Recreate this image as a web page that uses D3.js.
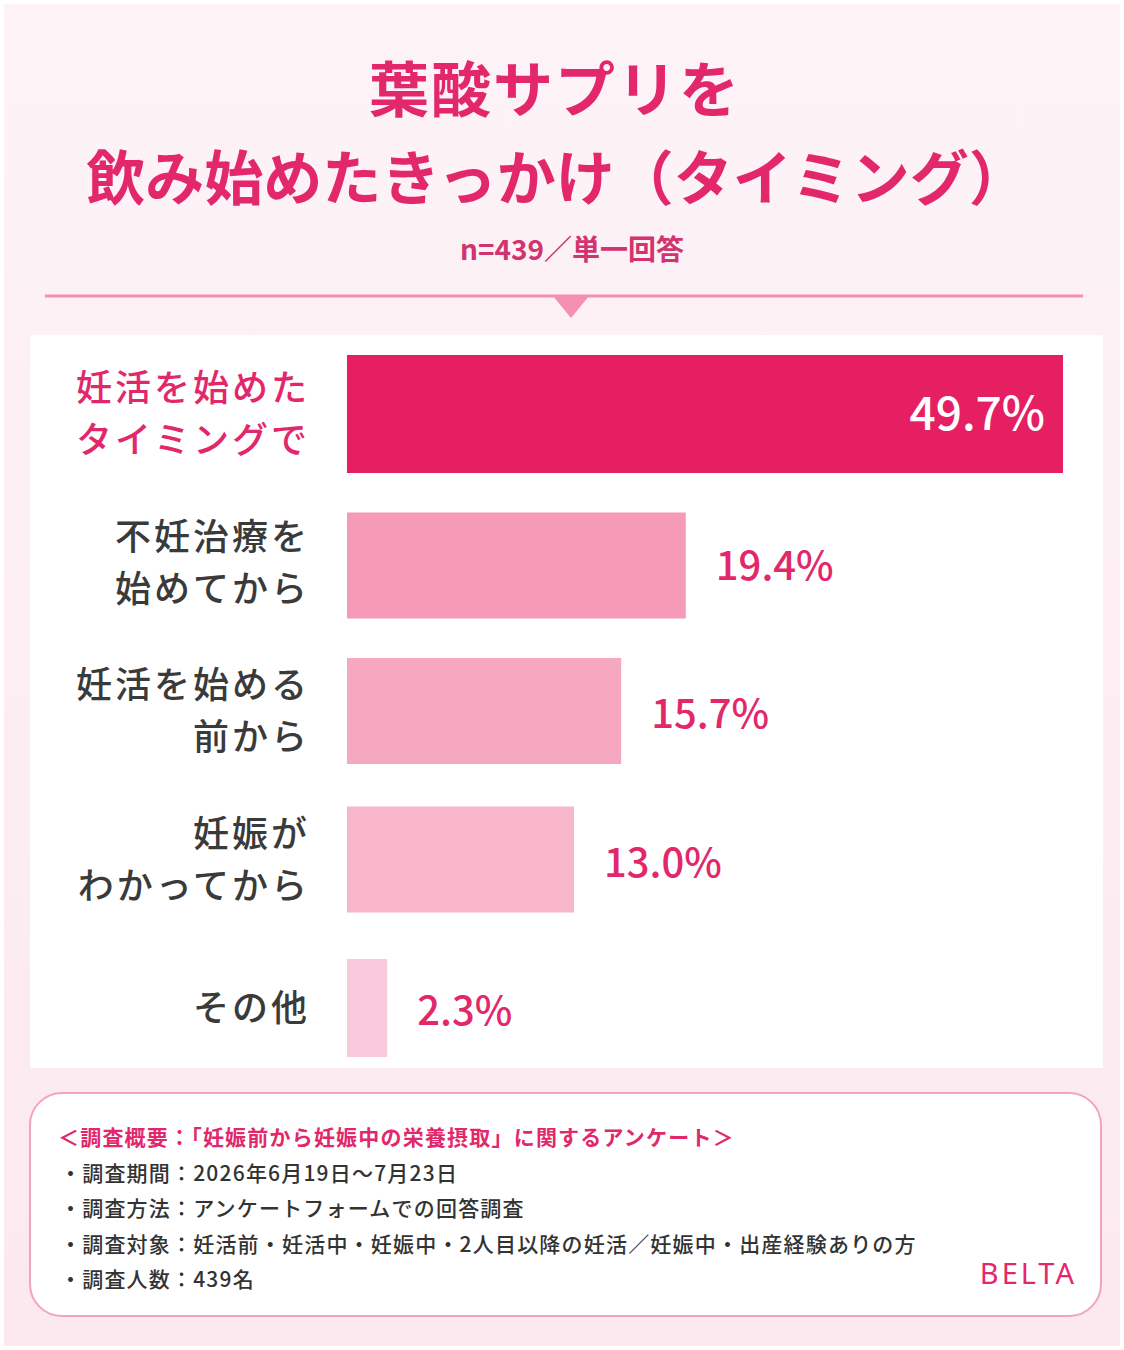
<!DOCTYPE html>
<html><head><meta charset="utf-8">
<script src="https://cdn.jsdelivr.net/npm/d3@7"></script>
<style>body{margin:0;background:#fff}</style>
</head><body>
<script>
var categories = [["妊活を始めた","タイミングで"],["不妊治療を","始めてから"],["妊活を始める","前から"],["妊娠が","わかってから"],["その他"]];
var values = [49.7, 19.4, 15.7, 13.0, 2.3];
var barColors = ["#e61e62","#f59ab7","#f7a8c1","#f8b6cb","#f9cadb"];
var notes = ["＜調査概要：「妊娠前から妊娠中の栄養摂取」に関するアンケート＞",
  "・調査期間：2026年6月19日〜7月23日",
  "・調査方法：アンケートフォームでの回答調査",
  "・調査対象：妊活前・妊活中・妊娠中・2人目以降の妊活／妊娠中・出産経験ありの方",
  "・調査人数：439名"];

var font = "'Noto Sans CJK JP', sans-serif";
var pink = "#e2286b";
var svg = d3.select("body").append("svg").attr("width",1124).attr("height",1350)
  .style("font-family", font);

var defs = svg.append("defs");
var g = defs.append("linearGradient").attr("id","bg").attr("x1",0).attr("y1",0).attr("x2",0).attr("y2",1);
g.append("stop").attr("offset","0").attr("stop-color","#fdf3f6");
g.append("stop").attr("offset","1").attr("stop-color","#fbe9ef");
svg.append("rect").attr("x",4).attr("y",4).attr("width",1116).attr("height",1342).attr("fill","url(#bg)");

svg.append("text").attr("x",555).attr("y",112).attr("text-anchor","middle").attr("font-size",60)
  .attr("font-weight",700).attr("fill",pink).attr("letter-spacing",2).text("葉酸サプリを");
svg.append("text").attr("x",557).attr("y",200).attr("text-anchor","middle").attr("font-size",59)
  .attr("font-weight",700).attr("fill",pink).attr("letter-spacing",0).text("飲み始めたきっかけ（タイミング）");
svg.append("text").attr("x",572).attr("y",260).attr("text-anchor","middle").attr("font-size",28)
  .attr("font-weight",700).attr("fill","#d23470").text("n=439／単一回答");

svg.append("line").attr("x1",45).attr("x2",1083).attr("y1",296).attr("y2",296)
  .attr("stroke","#f48fb1").attr("stroke-width",3);
svg.append("path").attr("d","M553,296L589,296L571,318Z").attr("fill","#f48fb1");

svg.append("rect").attr("x",30).attr("y",335).attr("width",1073).attr("height",733).attr("fill","#fff");

var x = d3.scaleLinear().domain([0,41]).range([0,716]).clamp(true);
var y = d3.scalePoint().domain(d3.range(values.length)).range([414,1008]);
var x0 = 347;

values.forEach(function(v,i){
  var h = i === 0 ? 118 : (i === 4 ? 98 : 106);
  var w = x(v);
  svg.append("rect").attr("x",x0).attr("y",y(i)-h/2+(i===1?3:0)).attr("width",w).attr("height",h).attr("fill",barColors[i]);
  var lines = categories[i];
  lines.forEach(function(t,j){
    svg.append("text").attr("x",310).attr("y",y(i)+(j-(lines.length-1)/2)*52+13)
      .attr("text-anchor","end").attr("font-size",36).attr("font-weight",500)
      .attr("letter-spacing",3)
      .attr("fill", i===0 ? pink : "#3a3a3a").text(t);
  });
  if (i === 0) {
    svg.append("text").attr("x",1045).attr("y",y(i)+16).attr("text-anchor","end")
      .attr("font-size",46).attr("font-weight",500).attr("fill","#fff").text(v.toFixed(1)+"%");
  } else {
    svg.append("text").attr("x",x0+w+30).attr("y",y(i)+17)
      .attr("font-size",40).attr("font-weight",500).attr("fill",pink).text(v.toFixed(1)+"%");
  }
});

svg.append("rect").attr("x",30).attr("y",1093).attr("width",1071).attr("height",223).attr("rx",32)
  .attr("fill","#fff").attr("stroke","#f2a3bf").attr("stroke-width",2);
notes.forEach(function(t,i){
  svg.append("text").attr("x", i===0 ? 58 : 60).attr("y",1145+i*35.5).attr("font-size",21)
    .attr("letter-spacing",1.2)
    .attr("font-weight", i===0 ? 700 : 500).attr("fill", i===0 ? pink : "#333").text(t);
});
svg.append("text").attr("x",1077).attr("y",1284).attr("text-anchor","end").attr("font-size",29)
  .attr("letter-spacing",3).attr("fill",pink).attr("font-family","'Noto Sans', sans-serif").text("BELTA");
</script>
</body></html>
